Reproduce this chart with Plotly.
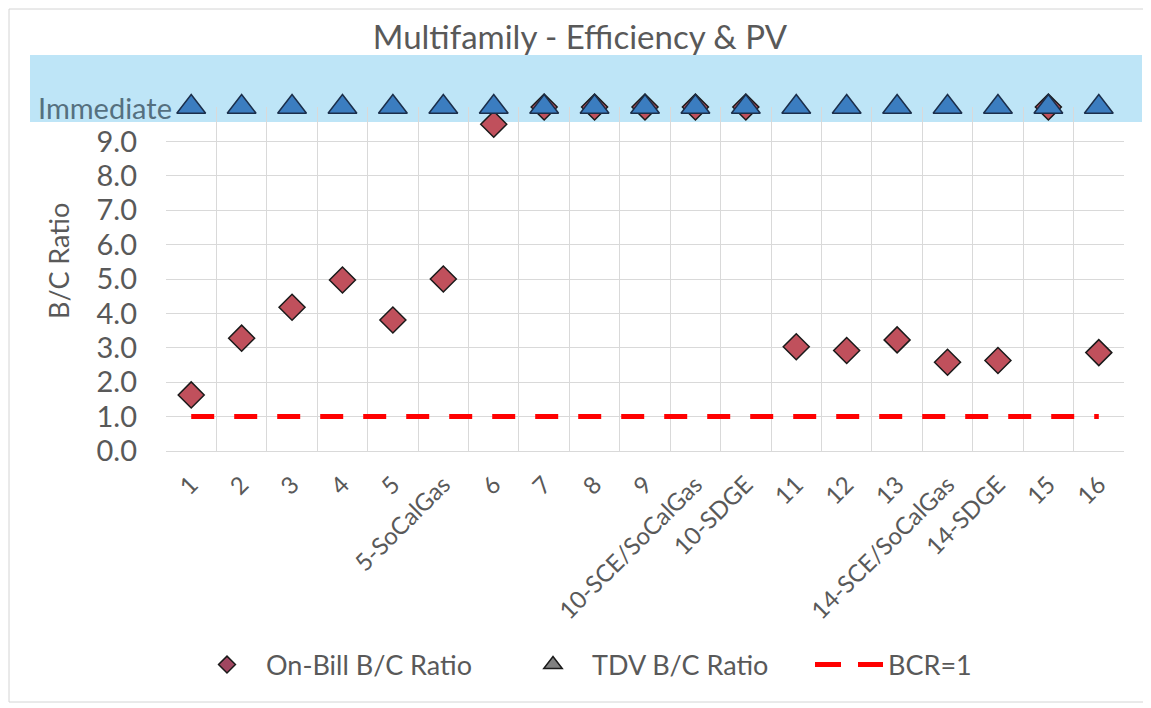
import plotly.graph_objects as go

categories = ["1", "2", "3", "4", "5", "5-SoCalGas", "6", "7", "8", "9",
              "10-SCE/SoCalGas", "10-SDGE", "11", "12", "13",
              "14-SCE/SoCalGas", "14-SDGE", "15", "16"]
# 10 represents "Immediate" payback
on_bill = [1.63, 3.28, 4.18, 4.97, 3.81, 5.0, 9.5, 10, 10, 10, 10, 10,
           3.03, 2.92, 3.23, 2.58, 2.63, 10, 2.86]
tdv = [10] * len(categories)
bcr = [1] * len(categories)
ytick_vals = [0, 1, 2, 3, 4, 5, 6, 7, 8, 9, 10]
ytick_text = ["0.0", "1.0", "2.0", "3.0", "4.0", "5.0", "6.0", "7.0", "8.0", "9.0", ""]
immediate_label = "Immediate"

FONT = "Lato"
GRAY = "#595959"

W, H = 1151, 708
OFF = 8  # page body margin
L, R, T, B = 166, 1124, 107, 451  # plot area in screen pixels


def px(x):
    return (x - L) / (R - L)


def py(y):
    return (B - y) / (B - T)


fig = go.Figure()

fig.add_trace(go.Scatter(x=categories, y=bcr, mode="lines",
                         line=dict(color="#FF0000", width=5, dash="23px,20px"),
                         showlegend=False, cliponaxis=False))
fig.add_trace(go.Scatter(x=categories, y=on_bill, mode="markers",
                         marker=dict(symbol="diamond", size=20, color="#C0505C",
                                     line=dict(color="#1a1a1a", width=1.5)),
                         showlegend=False, cliponaxis=False))
fig.add_trace(go.Scatter(x=categories, y=tdv, mode="markers",
                         marker=dict(symbol="triangle-up", size=25, color="#3B7DC0",
                                     line=dict(color="#1B2E4A", width=1.5)),
                         showlegend=False, cliponaxis=False))

# legend-only entries
fig.add_trace(go.Scatter(x=[None], y=[None], mode="markers", name="On-Bill B/C Ratio",
                         legend="legend",
                         marker=dict(symbol="diamond", size=13, color="#A04660",
                                     line=dict(color="#1a1a1a", width=1.5))))
fig.add_trace(go.Scatter(x=[None], y=[None], mode="markers", name="TDV B/C Ratio",
                         legend="legend2",
                         marker=dict(symbol="triangle-up", size=17, color="#808080",
                                     line=dict(color="#1a1a1a", width=1.5))))
fig.add_trace(go.Scatter(x=[None], y=[None], mode="lines", name="BCR=1",
                         legend="legend3",
                         line=dict(color="#FF0000", width=5, dash="26px,17px")))

shapes = [
    dict(type="rect", xref="paper", yref="paper", layer="below",
         x0=px(30), x1=px(1142), y0=py(122), y1=py(55),
         fillcolor="#BEE5F7", line=dict(width=0)),
    dict(type="rect", xref="paper", yref="paper", layer="below",
         x0=px(9), x1=px(1146), y0=py(702), y1=py(9),
         fillcolor="rgba(0,0,0,0)", line=dict(color="#D4D4D4", width=1)),
]

leg_common = dict(orientation="h", xanchor="left", y=py(665), yanchor="middle",
                  itemwidth=68,
                  font=dict(size=27, color=GRAY), bgcolor="rgba(0,0,0,0)")

fig.update_layout(
    width=W, height=H,
    margin=dict(l=L - OFF, r=W - (R - OFF), t=T - OFF, b=H - (B - OFF)),
    paper_bgcolor="white",
    plot_bgcolor="rgba(0,0,0,0)",
    font=dict(family=FONT, color=GRAY, size=22),
    title=dict(text="Multifamily - Efficiency & PV", x=px(580), xanchor="center",
               xref="paper",
               y=1 - (37 - OFF) / H, yanchor="middle", font=dict(size=33, color=GRAY)),
    shapes=shapes,
    showlegend=True,
    legend=dict(x=px(188), **leg_common),
    legend2=dict(x=px(514), **leg_common),
    legend3=dict(x=px(810), **leg_common),
    annotations=[
        dict(text="B/C Ratio", textangle=-90, x=px(58), y=py(261),
             xref="paper", yref="paper", showarrow=False,
             xanchor="center", yanchor="middle",
             font=dict(size=27, color=GRAY)),
        dict(text=immediate_label, x=px(174), y=10, xref="paper", yref="y",
             xanchor="right", yanchor="middle", showarrow=False,
             font=dict(size=29, color="#55707f")),
    ],
)

fig.update_xaxes(type="category", tickson="boundaries", showgrid=True, gridcolor="#D9D9D9",
                 gridwidth=1, showline=True, linecolor="#D9D9D9", tickangle=-45,
                 ticks="", tickfont=dict(size=24, color=GRAY), range=[-0.5, 18.5],
                 zeroline=False, ticklabelstandoff=9)
fig.update_yaxes(range=[0, 10], tickvals=ytick_vals, ticktext=ytick_text,
                 showgrid=True, gridcolor="#D9D9D9", gridwidth=1, zeroline=False,
                 showline=False, ticks="", tickfont=dict(size=29, color=GRAY),
                 ticklabelstandoff=28)

fig.write_html("out.html")
